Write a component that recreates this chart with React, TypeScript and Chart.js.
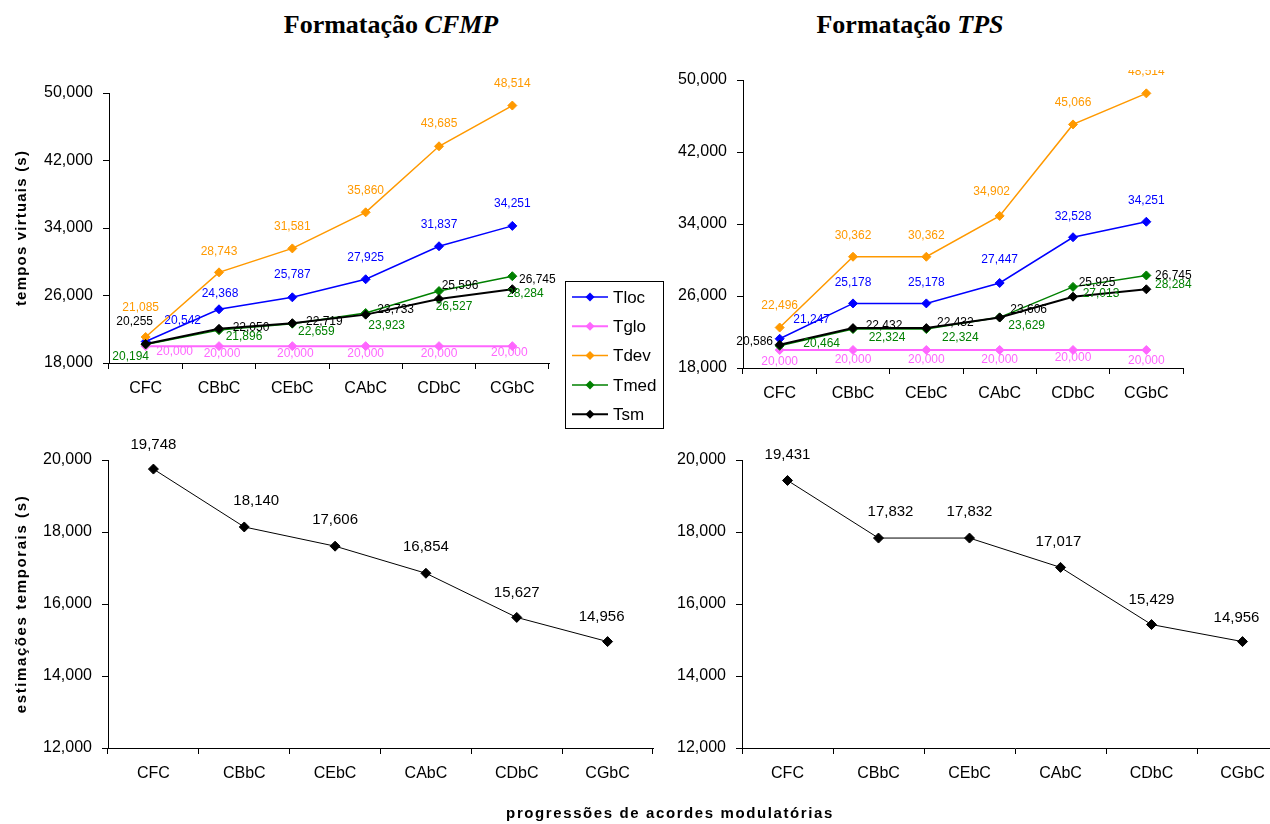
import React, { useEffect, useRef } from 'react';
import { Chart, registerables } from 'chart.js';

Chart.register(...registerables);

// Chord progressions on the x axis
const categories = ['CFC', 'CBbC', 'CEbC', 'CAbC', 'CDbC', 'CGbC'];

// Series of the virtual-time panels
const seriesNames = ['Tloc', 'Tglo', 'Tdev', 'Tmed', 'Tsm'];
const seriesColors = ['#0000FF', '#FF66FF', '#FF9900', '#008000', '#000000'];
const seriesWidths = [1.5, 2, 1.5, 1.5, 2];

// Virtual times (s), CFMP formatting
const tlocCFMP = [20.542, 24.368, 25.787, 27.925, 31.837, 34.251];
const tgloCFMP = [20.0, 20.0, 20.0, 20.0, 20.0, 20.0];
const tdevCFMP = [21.085, 28.743, 31.581, 35.86, 43.685, 48.514];
const tmedCFMP = [20.194, 21.896, 22.659, 23.923, 26.527, 28.284];
const tsmCFMP = [20.255, 22.05, 22.719, 23.733, 25.596, 26.745];

// Virtual times (s), TPS formatting
const tlocTPS = [21.247, 25.178, 25.178, 27.447, 32.528, 34.251];
const tgloTPS = [20.0, 20.0, 20.0, 20.0, 20.0, 20.0];
const tdevTPS = [22.496, 30.362, 30.362, 34.902, 45.066, 48.514];
const tmedTPS = [20.464, 22.324, 22.324, 23.629, 27.013, 28.284];
const tsmTPS = [20.586, 22.432, 22.432, 23.606, 25.925, 26.745];

// Time estimates (s)
const estCFMP = [19.748, 18.14, 17.606, 16.854, 15.627, 14.956];
const estTPS = [19.431, 17.832, 17.832, 17.017, 15.429, 14.956];

// Y axis tick values
const virtualTicks = [18, 26, 34, 42, 50];
const estimateTicks = [12, 14, 16, 18, 20];

// Value-label placement relative to each point: [dx, dy] in px
const offsetsCFMP = [
  [[37, -21], [1, -16], [0, -23], [0, -22], [0, -22], [0, -22]],
  [[29, 6], [3, 8], [3, 8], [0, 8], [0, 8], [-3, 7]],
  [[-5, -29], [0, -21], [0, -22], [0, -22], [0, -23], [0, -22]],
  [[-15, 12], [25, 7], [24, 8], [21, 13], [15, 16], [13, 17]],
  [[-11, -22], [32, -1], [32, -1], [30, -5], [21, -13], [25, -10]],
];
const offsetsTPS = [
  [[32, -19], [0, -21], [0, -21], [0, -23], [0, -21], [0, -21]],
  [[0, 12], [0, 10], [0, 10], [0, 10], [0, 8], [0, 11]],
  [[0, -22], [0, -21], [0, -21], [-8, -24], [0, -22], [0, -22]],
  [[42, -2], [34, 9], [34, 9], [27, 8], [28, 7], [27, 9]],
  [[-25, -3], [31, -2], [29, -5], [29, -8], [24, -14], [27, -14]],
];
const offsetsEstCFMP = [[[0, -24], [12, -26], [0, -26], [0, -26], [0, -25], [-6, -25]]];
const offsetsEstTPS = [[[0, -26], [12, -26], [0, -26], [-2, -26], [0, -25], [-6, -24]]];

const SANS = "'Liberation Sans', Arial, sans-serif";
const SERIF = "'Liberation Serif', 'Times New Roman', serif";

const fmt = (v: number) => v.toFixed(3).replace('.', ',');

const valueLabels = {
  id: 'valueLabels',
  afterDatasetsDraw(chart: any, _args: any, opts: any) {
    const { ctx } = chart;
    ctx.save();
    ctx.font = `${opts.size}px ${SANS}`;
    ctx.textAlign = 'center';
    ctx.textBaseline = 'middle';
    chart.data.datasets.forEach((ds: any, i: number) => {
      const meta = chart.getDatasetMeta(i);
      ctx.fillStyle = ds.borderColor;
      meta.data.forEach((pt: any, j: number) => {
        const [dx, dy] = opts.offsets[i][j];
        ctx.fillText(fmt(ds.data[j]), pt.x + dx, pt.y + dy);
      });
    });
    ctx.restore();
  },
};

const boxLegend = {
  id: 'boxLegend',
  afterDraw(chart: any, _args: any, opts: any) {
    if (!opts.show) return;
    const { ctx } = chart;
    const { x, y, w, h, row } = opts;
    ctx.save();
    ctx.fillStyle = '#fff';
    ctx.fillRect(x, y, w, h);
    ctx.strokeStyle = '#000';
    ctx.lineWidth = 1;
    ctx.strokeRect(x + 0.5, y + 0.5, w, h);
    ctx.font = `17px ${SANS}`;
    ctx.textAlign = 'left';
    ctx.textBaseline = 'middle';
    chart.data.datasets.forEach((ds: any, i: number) => {
      const cy = y + 16 + i * row;
      ctx.strokeStyle = ds.borderColor;
      ctx.lineWidth = ds.borderWidth;
      ctx.beginPath();
      ctx.moveTo(x + 7, cy);
      ctx.lineTo(x + 43, cy);
      ctx.stroke();
      ctx.fillStyle = ds.borderColor;
      ctx.beginPath();
      ctx.moveTo(x + 25, cy - 4.5);
      ctx.lineTo(x + 29.5, cy);
      ctx.lineTo(x + 25, cy + 4.5);
      ctx.lineTo(x + 20.5, cy);
      ctx.closePath();
      ctx.fill();
      ctx.fillStyle = '#000';
      ctx.fillText(ds.label, x + 48, cy + 1);
    });
    ctx.restore();
  },
};

type PanelProps = {
  left: number;
  top: number;
  width: number;
  height: number;
  clipTop?: number;
  area: { left: number; top: number; right: number; bottom: number };
  datasets: any[];
  ticks: number[];
  offsets: number[][][];
  labelSize: number;
  legend?: boolean;
};

function Panel(p: PanelProps) {
  const ref = useRef<HTMLCanvasElement>(null);
  useEffect(() => {
    const yw = p.area.left - p.left;
    const xh = p.top + p.height - p.area.bottom;
    const chart = new Chart(ref.current as HTMLCanvasElement, {
      type: 'line',
      data: { labels: categories, datasets: p.datasets },
      plugins: [valueLabels, boxLegend],
      options: {
        animation: false,
        responsive: false,
        devicePixelRatio: 1,
        layout: {
          padding: {
            left: 0,
            top: p.area.top - p.top,
            right: p.left + p.width - p.area.right,
            bottom: 0,
          },
        },
        plugins: {
          legend: { display: false },
          tooltip: { enabled: false },
          valueLabels: { offsets: p.offsets, size: p.labelSize },
          boxLegend: {
            show: !!p.legend,
            x: 565 - p.left,
            y: 281 - p.top,
            w: 98,
            h: 147,
            row: 29.3,
          },
        } as any,
        scales: {
          x: {
            type: 'category',
            offset: true,
            grid: {
              offset: true,
              drawOnChartArea: false,
              drawTicks: true,
              tickLength: 6,
              color: '#000',
              lineWidth: 1,
            },
            border: { display: true, color: '#000', width: 1 },
            ticks: {
              color: '#000',
              font: { size: 16, family: SANS },
              padding: 10,
              maxRotation: 0,
              autoSkip: false,
            },
            afterFit: (s: any) => {
              s.height = xh;
            },
          },
          y: {
            min: p.ticks[0],
            max: p.ticks[p.ticks.length - 1],
            ticks: {
              stepSize: p.ticks[1] - p.ticks[0],
              callback: (v: any) => fmt(Number(v)),
              color: '#000',
              font: { size: 16, family: SANS },
              padding: 10,
            },
            grid: { drawOnChartArea: false, tickLength: 6, color: '#000', lineWidth: 1 },
            border: { display: true, color: '#000', width: 1 },
            afterFit: (s: any) => {
              s.width = yw;
            },
          },
        },
      },
    });
    return () => chart.destroy();
  }, []);
  return (
    <canvas
      ref={ref}
      width={p.width}
      height={p.height}
      style={{
        position: 'absolute',
        left: p.left,
        top: p.top,
        width: p.width,
        height: p.height,
        clipPath: p.clipTop ? `inset(${p.clipTop}px 0 0 0)` : undefined,
      }}
    />
  );
}

function virtualSets(values: number[][]) {
  return values.map((data, i) => ({
    label: seriesNames[i],
    data,
    borderColor: seriesColors[i],
    backgroundColor: seriesColors[i],
    borderWidth: seriesWidths[i],
    pointStyle: 'rectRot',
    pointRadius: 4.5,
    pointBackgroundColor: seriesColors[i],
    pointBorderColor: seriesColors[i],
    pointBorderWidth: 1,
    tension: 0,
    order: values.length - 1 - i,
  }));
}

function estimateSet(data: number[]) {
  return [
    {
      label: 'Tsm',
      data,
      borderColor: '#000000',
      backgroundColor: '#000000',
      borderWidth: 1,
      pointStyle: 'rectRot',
      pointRadius: 5,
      pointBackgroundColor: '#000000',
      pointBorderColor: '#000000',
      pointBorderWidth: 1,
      tension: 0,
    },
  ];
}

const titleStyle: React.CSSProperties = {
  position: 'absolute',
  top: 25,
  transform: 'translate(-50%, -50%)',
  fontFamily: SERIF,
  fontWeight: 'bold',
  fontSize: 26,
  whiteSpace: 'nowrap',
  color: '#000',
};

const axisTitle: React.CSSProperties = {
  position: 'absolute',
  fontFamily: SANS,
  fontWeight: 'bold',
  fontSize: 15,
  whiteSpace: 'nowrap',
  color: '#000',
};

export default function App() {
  return (
    <div
      style={{
        position: 'absolute',
        left: 0,
        top: 0,
        width: 1270,
        height: 824,
        overflow: 'hidden',
        background: '#fff',
      }}
    >
      <div style={{ ...titleStyle, left: 391 }}>
        Formatação <i>CFMP</i>
      </div>
      <div style={{ ...titleStyle, left: 910 }}>
        Formatação <i>TPS</i>
      </div>

      <Panel
        left={0}
        top={60}
        width={670}
        height={370}
        area={{ left: 109, top: 93, right: 549, bottom: 363 }}
        datasets={virtualSets([tlocCFMP, tgloCFMP, tdevCFMP, tmedCFMP, tsmCFMP])}
        ticks={virtualTicks}
        offsets={offsetsCFMP}
        labelSize={12}
        legend
      />
      <Panel
        left={670}
        top={50}
        width={570}
        height={380}
        clipTop={20}
        area={{ left: 743, top: 80, right: 1183, bottom: 368 }}
        datasets={virtualSets([tlocTPS, tgloTPS, tdevTPS, tmedTPS, tsmTPS])}
        ticks={virtualTicks}
        offsets={offsetsTPS}
        labelSize={12}
      />
      <Panel
        left={0}
        top={432}
        width={665}
        height={392}
        area={{ left: 108, top: 460, right: 653, bottom: 748 }}
        datasets={estimateSet(estCFMP)}
        ticks={estimateTicks}
        offsets={offsetsEstCFMP}
        labelSize={15}
      />
      <Panel
        left={670}
        top={432}
        width={630}
        height={392}
        area={{ left: 742, top: 460, right: 1288, bottom: 748 }}
        datasets={estimateSet(estTPS)}
        ticks={estimateTicks}
        offsets={offsetsEstTPS}
        labelSize={15}
      />

      <div
        style={{
          ...axisTitle,
          left: 20,
          top: 228,
          letterSpacing: 1.2,
          transform: 'translate(-50%, -50%) rotate(-90deg)',
        }}
      >
        tempos virtuais (s)
      </div>
      <div
        style={{
          ...axisTitle,
          left: 20,
          top: 604,
          letterSpacing: 1.6,
          transform: 'translate(-50%, -50%) rotate(-90deg)',
        }}
      >
        estimações temporais (s)
      </div>
      <div
        style={{
          ...axisTitle,
          left: 670,
          top: 812,
          letterSpacing: 1.6,
          transform: 'translate(-50%, -50%)',
        }}
      >
        progressões de acordes modulatórias
      </div>
    </div>
  );
}
